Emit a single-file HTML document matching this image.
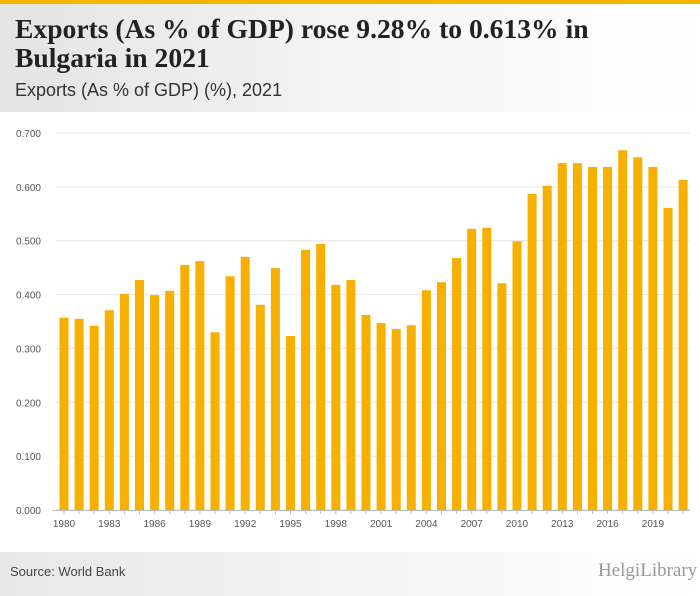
<!DOCTYPE html>
<html><head><meta charset="utf-8"><style>
body{margin:0;width:700px;height:596px;background:#fff;position:relative;overflow:hidden;font-family:"Liberation Sans",sans-serif}
.top{position:absolute;left:0;top:0;width:700px;height:4px;background:#f5b400}
.hdr{position:absolute;left:0;top:4px;width:700px;height:108px;background:linear-gradient(90deg,#e4e4e4,#f4f4f4 50%,#fff)}
h1{position:absolute;left:15px;top:14px;margin:0;font-family:"Liberation Serif",serif;font-size:27.6px;line-height:29px;font-weight:bold;color:#222}
.sub{position:absolute;left:15px;top:80px;font-size:18px;color:#333}
.foot{position:absolute;left:0;top:552px;width:700px;height:44px;background:linear-gradient(90deg,#e8e8e8,#f6f6f6 60%,#fff)}
.src{position:absolute;left:10px;top:564px;font-size:13px;color:#444}
.logo{position:absolute;left:598px;top:560px;font-size:19px;color:#999;font-family:"Liberation Serif",serif}
</style></head><body>
<div class="top"></div>
<div class="hdr"></div>
<h1>Exports (As % of GDP) rose 9.28% to 0.613% in<br>Bulgaria in 2021</h1>
<div class="sub">Exports (As % of GDP) (%), 2021</div>
<svg id="chart" width="700" height="596" style="position:absolute;left:0;top:0"></svg>
<div class="foot"></div>
<div class="src">Source: World Bank</div>
<div class="logo">HelgiLibrary</div>
<script>
const years=[1980,1981,1982,1983,1984,1985,1986,1987,1988,1989,1990,1991,1992,1993,1994,1995,1996,1997,1998,1999,2000,2001,2002,2003,2004,2005,2006,2007,2008,2009,2010,2011,2012,2013,2014,2015,2016,2017,2018,2019,2020,2021];
const values=[0.357,0.355,0.342,0.371,0.401,0.427,0.399,0.407,0.455,0.462,0.330,0.434,0.470,0.381,0.449,0.323,0.483,0.494,0.418,0.427,0.362,0.347,0.336,0.343,0.408,0.423,0.468,0.522,0.524,0.421,0.499,0.587,0.602,0.644,0.644,0.637,0.637,0.668,0.655,0.637,0.561,0.613];
const yTicks=[0,0.1,0.2,0.3,0.4,0.5,0.6,0.7];
const xLabelYears=[1980,1983,1986,1989,1992,1995,1998,2001,2004,2007,2010,2013,2016,2019];
const svg=document.getElementById('chart');
const NS='http://www.w3.org/2000/svg';
const y0=510,yTop=133,ymax=0.7;
const yS=v=>y0-(v/ymax)*(y0-yTop);
const x0=64,step=15.1;
const xS=yr=>x0+(yr-years[0])*step;
function mk(t,a){const e=document.createElementNS(NS,t);for(const k in a)e.setAttribute(k,a[k]);svg.appendChild(e);return e;}
yTicks.forEach(v=>{
 const g=mk('line',{x1:56,x2:690,y1:yS(v),y2:yS(v),stroke:'#e6e6e6','stroke-width':1});
 
 
 const t=mk('text',{x:41,y:yS(v)+4,'text-anchor':'end','font-size':10,fill:'#555','font-family':'Liberation Sans, sans-serif'});
 t.textContent=v.toFixed(3);
 
 
});
const ax=mk('line',{x1:52,x2:690,y1:y0+0.5,y2:y0+0.5,stroke:'#bbb'});


years.forEach((yr,i)=>{
 const b=mk('rect',{x:xS(yr)-4.5,y:yS(values[i]),width:9,height:y0-yS(values[i]),fill:'#f7b000'});
 
 
 const tk=mk('line',{x1:xS(yr),x2:xS(yr),y1:y0,y2:y0+4,stroke:'#bbb'});
 
 
});
xLabelYears.forEach(yr=>{
 const t=mk('text',{x:xS(yr),y:527,'text-anchor':'middle','font-size':10,fill:'#555','font-family':'Liberation Sans, sans-serif'});
 t.textContent=yr;
 
 
});
</script>
</body></html>
